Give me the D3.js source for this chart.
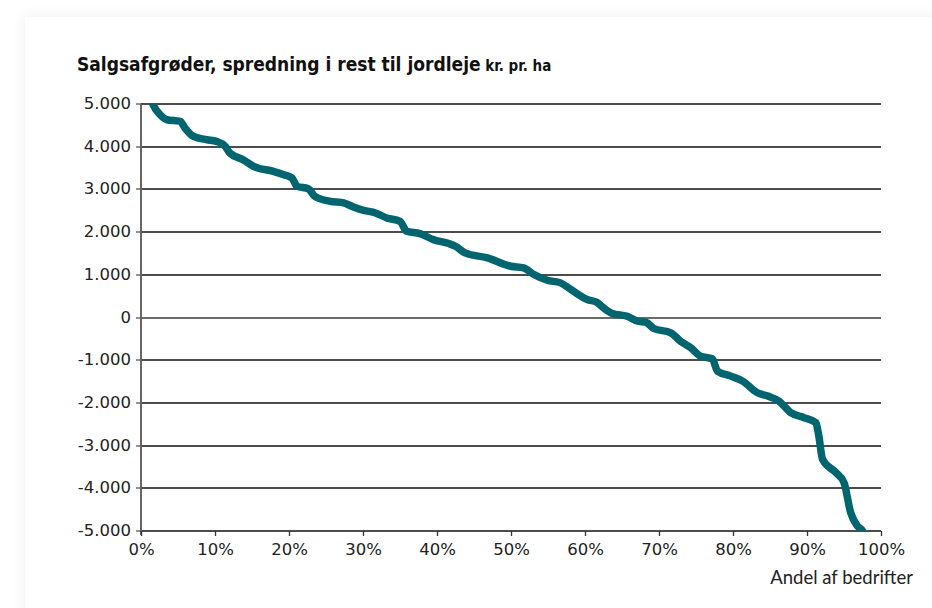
<!DOCTYPE html>
<html>
<head>
<meta charset="utf-8">
<script src="https://cdn.jsdelivr.net/npm/d3@7"></script>
<style>
  html, body { margin: 0; padding: 0; background: #ffffff; }
  body { width: 932px; height: 608px; overflow: hidden; position: relative; }
  #card { position: absolute; left: 25px; top: 17px; width: 960px; height: 640px; background: #fff;
          box-shadow: 0 0 14px rgba(0,0,0,0.07); }
  svg { position: absolute; left: 0; top: 0; }
</style>
</head>
<body>
<div id="card"></div>
<svg id="chart" width="932" height="608"></svg>
<script>
// Data
const titleMain = "Salgsafgrøder, spredning i rest til jordleje";
const titleUnit = " kr. pr. ha";
const xLabel = "Andel af bedrifter";
const yTicks = [5000, 4000, 3000, 2000, 1000, 0, -1000, -2000, -3000, -4000, -5000];
const xTicks = [0, 10, 20, 30, 40, 50, 60, 70, 80, 90, 100];
const sharePct = [1.2, 1.6, 2.6, 3.5, 5.3, 5.95, 7.1, 8.9, 10.2, 11.4, 12.0, 13.8, 15.2, 17.9, 19.3, 20.4, 21.1, 22.6, 23.5, 25.6,
  27.4, 28.7, 30.1, 31.7, 33.2, 35.0, 35.9, 37.7, 39.5, 41.6, 42.5, 43.8, 46.8, 50.0, 51.7, 53.1, 54.9, 56.7, 58.1,
  60.3, 61.6, 62.5, 63.7, 65.7, 67.1, 68.2, 69.3, 71.6, 72.9, 74.3, 75.6, 77.2, 77.9, 79.7, 81.3, 83.3, 84.7, 86.2,
  87.8, 89.6, 91.2, 91.6, 92.1, 93.9, 95.0, 95.9, 96.8, 97.5, 97.8];
const restValue = [5200, 5000, 4748, 4631, 4592, 4437, 4240, 4163, 4124, 4007, 3852, 3696, 3539, 3422, 3345, 3267, 3071, 3017, 2837, 2720,
  2683, 2589, 2510, 2449, 2332, 2253, 2019, 1965, 1824, 1731, 1668, 1513, 1396, 1200, 1163, 1006, 872, 811, 655,
  421, 358, 227, 94, 30, -87, -110, -257, -358, -554, -709, -905, -966, -1256, -1373, -1490, -1763, -1841, -1958,
  -2229, -2346, -2463, -2776, -3321, -3632, -3866, -4568, -4880, -5000, -5150];

const svg = d3.select("#chart");
const mLeft = 141, mRight = 881, mTop = 104, mBottom = 531;

const x = d3.scaleLinear().domain([0, 100]).range([mLeft, mRight]);
const y = d3.scaleLinear().domain([-5000, 5000]).range([mBottom, mTop]);
const yr = v => Math.round(y(v));

const fmt = v => v === 0 ? "0" : d3.format(",")(v).replace(/,/g, ".").replace("−", "-");

// Title
const t = svg.append("text").attr("x", 77).attr("y", 71)
  .style("font-family", "'Liberation Sans Narrow', 'DejaVu Sans Condensed', 'Roboto Condensed', Roboto, sans-serif")
  .style("font-weight", "bold").style("fill", "#111");
t.append("tspan").text(titleMain).style("font-size", "19px");
t.append("tspan").text(titleUnit).style("font-size", "15px");

// Gridlines
svg.append("g").selectAll("line").data(yTicks).join("line")
  .attr("x1", mLeft).attr("x2", mRight)
  .attr("y1", d => yr(d)).attr("y2", d => yr(d))
  .attr("stroke", d => d === 0 ? "#3a3a3a" : "#111").attr("stroke-width", d => d === 0 ? 1.6 : 1.3);

// Y axis
const yAxis = svg.append("g").attr("transform", `translate(${mLeft},0)`)
  .call(d3.axisLeft(y).tickValues(yTicks).tickFormat(fmt).tickSize(5).tickPadding(5));
yAxis.select(".domain").attr("stroke", "#666").attr("stroke-width", 2).attr("d", `M0,${mTop}V${mBottom + 4}`);
yAxis.selectAll(".tick").attr("transform", d => `translate(0,${yr(d)})`);
yAxis.selectAll(".tick line").attr("stroke", "#555").attr("stroke-width", 1.3);
yAxis.selectAll("text").style("font-family", "'DejaVu Sans', sans-serif").style("font-size", "16.5px").style("fill", "#222");

// X axis
const xAxis = svg.append("g").attr("transform", `translate(0,${mBottom})`)
  .call(d3.axisBottom(x).tickValues(xTicks).tickFormat(d => d + "%").tickSize(5).tickPadding(7));
xAxis.select(".domain").remove();
xAxis.selectAll(".tick line").attr("stroke", "#333").attr("stroke-width", 1.3);
xAxis.selectAll("text").style("font-family", "'DejaVu Sans', sans-serif").style("font-size", "16.5px").style("fill", "#222");

// X label
svg.append("text").attr("x", 913).attr("y", 584).attr("text-anchor", "end")
  .style("font-family", "Lato, 'Open Sans', sans-serif").style("font-size", "18.5px").style("fill", "#222")
  .text(xLabel);

// Curve
svg.append("clipPath").attr("id", "clip").append("rect")
  .attr("x", mLeft).attr("y", mTop).attr("width", mRight - mLeft).attr("height", mBottom - mTop);
const pts = sharePct.map((p, i) => [p, restValue[i]]);
svg.append("path").datum(pts)
  .attr("clip-path", "url(#clip)")
  .attr("fill", "none").attr("stroke", "#00656e").attr("stroke-width", 7.5)
  .attr("stroke-linejoin", "round")
  .attr("d", d3.line().x(d => x(d[0])).y(d => y(d[1])).curve(d3.curveMonotoneX));
</script>
</body>
</html>
